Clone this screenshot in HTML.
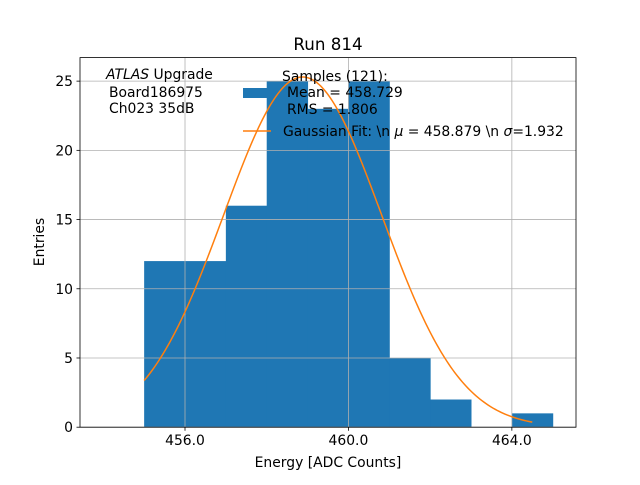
<!DOCTYPE html>
<html><head><meta charset="utf-8"><style>
body{margin:0;background:#fff}
text{font-family:"DejaVu Sans","Liberation Sans",sans-serif;fill:#000}
</style></head><body>
<svg id="chart" width="640" height="480" viewBox="0 0 640 480">
<rect width="640" height="480" fill="#fff"/>
<g id="bars"></g>
<g id="grid"></g>
<path id="fit" fill="none" stroke="#ff7f0e" stroke-width="1.5"/>
<rect x="80" y="57.6" width="496" height="369.6" fill="none" stroke="#000" stroke-width="0.8"/>
<g id="ticks"></g>
<text x="328" y="50" font-size="16.7" text-anchor="middle">Run 814</text>
<text x="328" y="467" font-size="13.9" text-anchor="middle">Energy [ADC Counts]</text>
<text transform="translate(44,242) rotate(-90)" font-size="13.9" text-anchor="middle">Entries</text>
<g font-size="13.9">
<text x="106" y="79"><tspan font-style="italic">ATLAS</tspan> Upgrade</text>
<text x="109" y="97">Board186975</text>
<text x="109" y="113">Ch023 35dB</text>
</g>
<g font-size="13.9">
<rect x="243" y="88" width="25" height="10" fill="#1f77b4"/>
<text x="282" y="81">Samples (121):</text>
<text x="287" y="97">Mean = 458.729</text>
<text x="287" y="114">RMS = 1.806</text>
<line x1="243" y1="131" x2="271" y2="131" stroke="#ff7f0e" stroke-width="1.5"/>
<text x="283" y="136">Gaussian Fit: \n <tspan font-style="italic">μ</tspan> = 458.879 \n <tspan font-style="italic">σ</tspan>=1.932</text>
</g>
</svg>
<script>
const binEdges=[455,456,457,458,459,460,461,462,463,464,465];
const binCounts=[12,12,16,25,23,25,5,2,0,1];
const fitMu=458.879, fitSigma=1.932, fitAmp=25.3, fitRange=[455,464.5];
const xTicks=[456,460,464];
const yTicks=[0,5,10,15,20,25];
const xMin=453.43,xMax=465.57,yMin=0,yMax=26.7;
const L=80,R=576,T=57.6,B=427.2;
const X=v=>L+(v-xMin)/(xMax-xMin)*(R-L);
const Y=v=>B-(v-yMin)/(yMax-yMin)*(B-T);
const NS="http://www.w3.org/2000/svg";
function mk(tag,attrs,parent){const e=document.createElementNS(NS,tag);for(const k in attrs)e.setAttribute(k,attrs[k]);parent.appendChild(e);return e;}
const bars=document.getElementById('bars');
binCounts.forEach((c,i)=>{
 if(c<=0)return;
 const r=mk('rect',{x:X(binEdges[i]),y:Y(c),width:X(binEdges[i+1])-X(binEdges[i])+0.5,height:Y(0)-Y(c),fill:'#1f77b4'},bars);
 
 
});
const grid=document.getElementById('grid'),ticks=document.getElementById('ticks');
xTicks.forEach(t=>{
 const g=mk('line',{x1:X(t),x2:X(t),y1:T,y2:B,stroke:'#b0b0b0','stroke-width':0.8},grid);
 
 
 mk('line',{x1:X(t),x2:X(t),y1:B,y2:B+3.5,stroke:'#000','stroke-width':0.8},ticks);
 const tx=mk('text',{x:X(t),y:B+18,'font-size':13.9,'text-anchor':'middle'},ticks);
 tx.textContent=t.toFixed(1);
 
 
});
yTicks.forEach(t=>{
 const g=mk('line',{x1:L,x2:R,y1:Y(t),y2:Y(t),stroke:'#b0b0b0','stroke-width':0.8},grid);
 
 
 mk('line',{x1:L-3.5,x2:L,y1:Y(t),y2:Y(t),stroke:'#000','stroke-width':0.8},ticks);
 const tx=mk('text',{x:L-7,y:Y(t)+5,'font-size':13.9,'text-anchor':'end'},ticks);
 tx.textContent=t;
 
 
});
let d='';
for(let i=0;i<=200;i++){
 const x=fitRange[0]+(fitRange[1]-fitRange[0])*i/200;
 const y=fitAmp*Math.exp(-Math.pow(x-fitMu,2)/(2*fitSigma*fitSigma));
 d+=(i?'L':'M')+X(x).toFixed(2)+','+Y(y).toFixed(2);
}
document.getElementById('fit').setAttribute('d',d);
</script>
</body></html>
